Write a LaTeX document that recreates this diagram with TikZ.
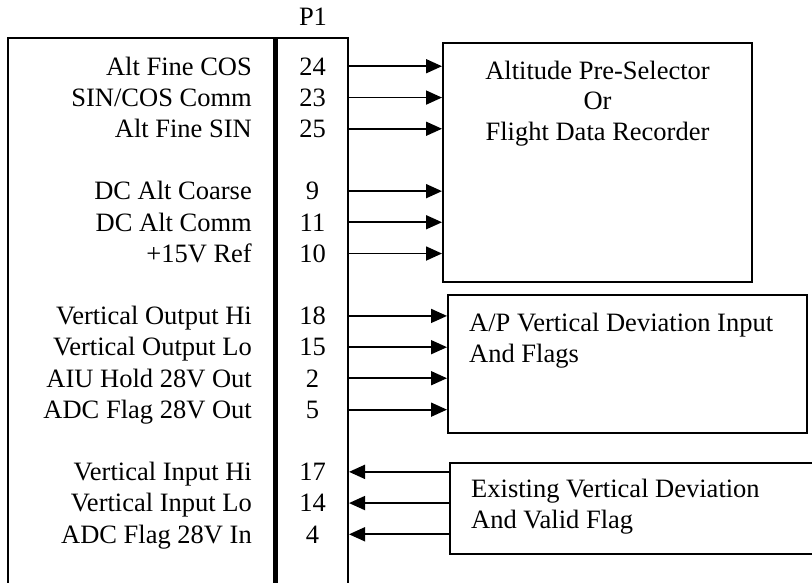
\documentclass[tikz,border=0pt]{standalone}
\usepackage{fontspec}
\setmainfont{Liberation Serif}
\usetikzlibrary{arrows.meta}
\begin{document}
\begin{tikzpicture}[x=1pt,y=-1pt,
  box/.style={draw, line width=2pt, rectangle, inner sep=0pt},
  lbl/.style={anchor=base east, inner sep=0pt, font=\fontsize{26.5}{31}\selectfont},
  pin/.style={anchor=base, inner sep=0pt, font=\fontsize{26.5}{31}\selectfont},
  txt/.style={inner sep=0pt, font=\fontsize{26.5}{30.5}\selectfont},
  arr/.style={line width=1.7pt, -{Triangle[length=16pt,width=14pt]}}]
\path[use as bounding box] (0,0) rectangle (812,582);
\clip (0,0) rectangle (812,582);
% connector box and pin block
\node[box, minimum width=266pt, minimum height=582pt] (lhs) at (141,329) {};
\draw[line width=3pt] (lhs.north east) ++(-0.5,0) -- ++(0,600);
\node[box, minimum width=71pt, minimum height=582pt] (p1) at (312.5,329) {};
\node[pin] (p1lbl) at (313,25) {P1};
% target boxes
\node[box, minimum width=309pt, minimum height=239pt] (alt) at (597.5,162.5) {};
\node[box, minimum width=359pt, minimum height=138pt] (ap) at (627.5,364) {};
\node[box, minimum width=380pt, minimum height=91pt] (ex) at (640,508.5) {};
\node[txt, align=center, anchor=base] (alttxt) at (597.5,140) {Altitude Pre-Selector\\Or\\Flight Data Recorder};
\node[txt, align=left, anchor=base west] (aptxt) at (469,362) {A/P Vertical Deviation Input\\And Flags};
\node[txt, align=left, anchor=base west] (extxt) at (471,528) {Existing Vertical Deviation\\And Valid Flag};
% signal labels
\node[lbl] (l24) at (252,75) {Alt Fine COS};
\node[lbl] (l23) at (252,106.2) {SIN/COS Comm};
\node[lbl] (l25) at (252,137.4) {Alt Fine SIN};
\node[lbl] (l9) at (252,199.8) {DC Alt Coarse};
\node[lbl] (l11) at (252,231) {DC Alt Comm};
\node[lbl] (l10) at (252,262.2) {+15V Ref};
\node[lbl] (l18) at (252,324.6) {Vertical Output Hi};
\node[lbl] (l15) at (252,355.8) {Vertical Output Lo};
\node[lbl] (l2) at (252,387) {AIU Hold 28V Out};
\node[lbl] (l5) at (252,418.2) {ADC Flag 28V Out};
\node[lbl] (l17) at (252,480.6) {Vertical Input Hi};
\node[lbl] (l14) at (252,511.8) {Vertical Input Lo};
\node[lbl] (l4) at (252,543) {ADC Flag 28V In};
% pin numbers
\node[pin] (n24) at (312.5,75) {24};
\node[pin] (n23) at (312.5,106.2) {23};
\node[pin] (n25) at (312.5,137.4) {25};
\node[pin] (n9) at (312.5,199.8) {9};
\node[pin] (n11) at (312.5,231) {11};
\node[pin] (n10) at (312.5,262.2) {10};
\node[pin] (n18) at (312.5,324.6) {18};
\node[pin] (n15) at (312.5,355.8) {15};
\node[pin] (n2) at (312.5,387) {2};
\node[pin] (n5) at (312.5,418.2) {5};
\node[pin] (n17) at (312.5,480.6) {17};
\node[pin] (n14) at (312.5,511.8) {14};
\node[pin] (n4) at (312.5,543) {4};
% connectors
\foreach \n in {24,23,25,9,11,10} \draw[arr] (n\n -| p1.east) -- (n\n -| alt.west);
\foreach \n in {18,15,2,5} \draw[arr] (n\n -| p1.east) -- (n\n -| ap.west);
\foreach \n in {17,14,4} \draw[arr] (n\n -| ex.west) -- (n\n -| p1.east);
\end{tikzpicture}
\end{document}
